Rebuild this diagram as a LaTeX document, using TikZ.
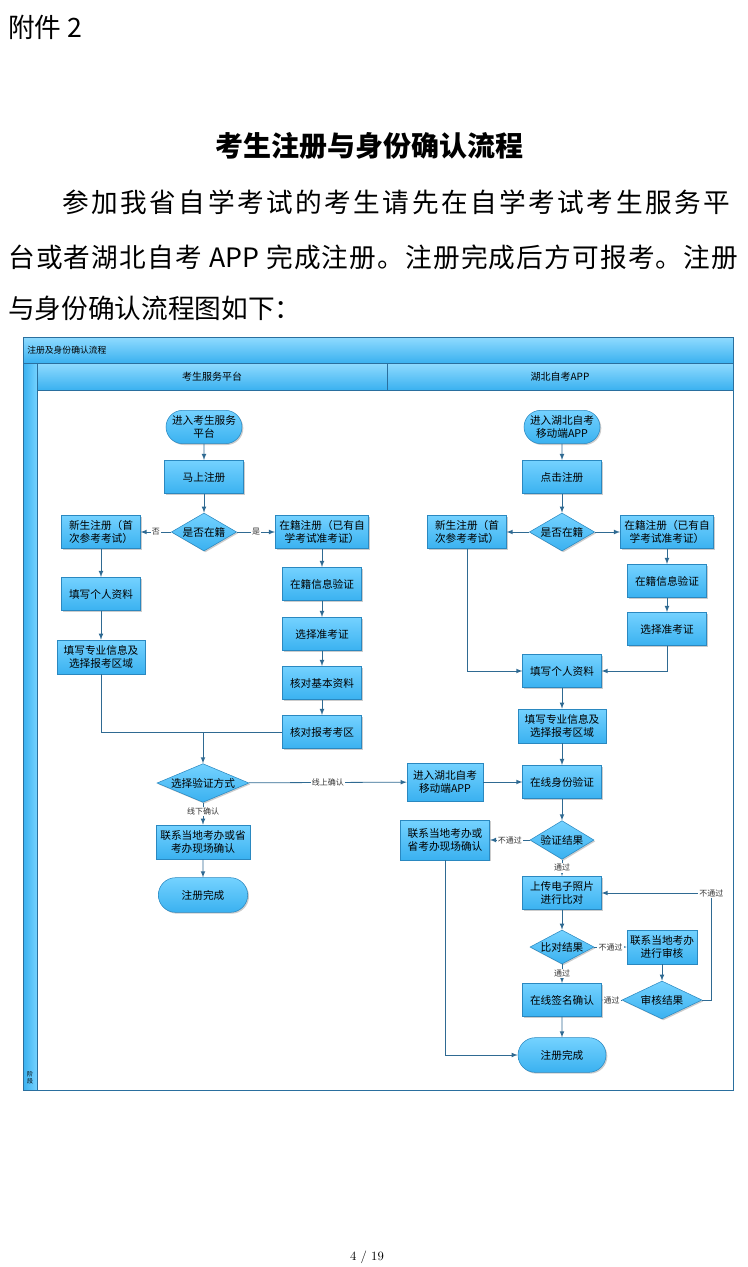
\documentclass[tikz,border=0pt]{standalone}
\usepackage{fontspec}
\newfontfamily\cjk{Noto Sans CJK SC}
\usetikzlibrary{shapes.geometric,shapes.misc,shadows}
\definecolor{flowline}{HTML}{2F6A92}
\definecolor{boxedge}{HTML}{2A88C0}
\definecolor{boxtop}{HTML}{74D2FF}
\definecolor{boxbot}{HTML}{3AB1F0}
\definecolor{baredge}{HTML}{2A6F9E}
\newcommand\parafont{\cjk\fontsize{20}{20}\selectfont}
% spread a line of body text over a given width
\makeatletter
\newcommand\spreadline[2]{\hbox to #1{\@tfor\sp@ch:=#2\do{\sp@ch\hskip 0pt plus 1fil\relax}\unskip}}
\makeatother

\begin{document}
\begin{tikzpicture}[x=0.75pt,y=-0.75pt,>=latex,
  proc/.style={draw=boxedge, top color=boxtop, bottom color=boxbot,
    minimum width=59pt, minimum height=25pt, inner sep=1pt, align=center,
    font=\cjk\fontsize{8}{10}\selectfont,
    drop shadow={shadow xshift=1pt, shadow yshift=-1pt, fill=black!40, opacity=0.5}},
  term/.style={proc, rounded rectangle},
  ask/.style={proc, diamond, inner sep=0pt},
  flow/.style={draw=flowline, line width=0.6pt},
  lbl/.style={fill=white, inner sep=0.8pt, font=\cjk\fontsize{6}{7}\selectfont, text=black!80},
  bar/.style={draw=baredge, line width=0.6pt, top color=boxtop!80!white, bottom color=boxbot}]
  \useasboundingbox (0,0) rectangle (748,1267);
  % page text
  \node[anchor=base west, inner sep=0, font=\parafont] (att) at (8,37) {附件 2};
  \node[anchor=base, inner sep=0, font=\cjk\bfseries\fontsize{21}{21}\selectfont] (title) at (369,156) {考生注册与身份确认流程};
  \node[anchor=base west, inner sep=0, font=\parafont] (line1) at (62,212) {\spreadline{501pt}{参加我省自学考试的考生请先在自学考试考生服务平}};
  \node[anchor=base west, inner sep=0, font=\parafont] (line2) at (8,267) {\spreadline{547.5pt}{台或者湖北自考{\ APP\ }完成注册。注册完成后方可报考。注册}};
  \node[anchor=base west, inner sep=0, font=\parafont] (line3) at (8,318) {\spreadline{219pt}{与身份确认流程图如下：}};
  \node[inner sep=0, font=\fontsize{9.5}{10}\selectfont] (pageno) at (367,1257) {4 / 19};

  % frame and lanes
  \draw[draw=baredge, line width=0.6pt] (37,390) rectangle (733,1090);
  \draw[bar] (23,337) rectangle (733,363);
  \draw[bar] (37,363) rectangle (387,390);
  \draw[bar] (387,363) rectangle (733,390);
  \draw[draw=baredge, line width=0.6pt, left color=boxbot, right color=boxtop] (23,363) rectangle (37,1090);
  \node[anchor=west, inner sep=0, font=\cjk\fontsize{6.6}{8}\selectfont] (frametitle) at (27,350) {注册及身份确认流程};
  \node[font=\cjk\fontsize{7.5}{9}\selectfont] (lane1) at (212,376.5) {考生服务平台};
  \node[font=\cjk\fontsize{7.5}{9}\selectfont] (lane2) at (560,376.5) {湖北自考APP};
  \node[align=center, inner sep=0, font=\cjk\fontsize{4.5}{5}\selectfont] (stage) at (30,1078) {阶\\段};

  % left lane
  \node[term] (s1) at (204,427) {进入考生服务\\平台};
  \node[proc] (r1) at (204,477) {马上注册};
  \node[ask, aspect=1.72, minimum width=49pt, minimum height=28.5pt] (d1) at (204,532) {是否在籍};
  \node[proc] (n1) at (101,532) {新生注册（首\\次参考考试）};
  \node[proc, minimum width=70pt] (o1) at (322,532) {在籍注册（已有自\\学考试准考证）};
  \node[proc] (i1) at (101,594) {填写个人资料};
  \node[proc, minimum width=66pt, minimum height=25.5pt] (m1) at (101,657) {填写专业信息及\\选择报考区域};
  \node[proc] (v1) at (322,584) {在籍信息验证};
  \node[proc] (p1) at (322,634) {选择准考证};
  \node[proc] (b1) at (322,683) {核对基本资料};
  \node[proc] (a1) at (322,732) {核对报考考区};
  \coordinate (j1) at (203,732);
  \node[ask, aspect=2.38, minimum width=69pt, minimum height=29pt] (w1) at (203,783) {选择验证方式};
  \node[proc, minimum width=70.5pt, minimum height=25.5pt] (c1) at (203,842) {联系当地考办或省\\考办现场确认};
  \node[term, minimum width=69pt, minimum height=26pt] (e1) at (203,895) {注册完成};

  % right lane
  \node[term] (s2) at (562,427) {进入湖北自考\\移动端APP};
  \node[proc] (r2) at (562,477) {点击注册};
  \node[ask, aspect=1.72, minimum width=49pt, minimum height=28.5pt] (d2) at (562,532) {是否在籍};
  \node[proc] (n2) at (467,532) {新生注册（首\\次参考考试）};
  \node[proc, minimum width=70pt] (o2) at (667,532) {在籍注册（已有自\\学考试准考证）};
  \node[proc] (v2) at (667,581) {在籍信息验证};
  \node[proc] (p2) at (667,629) {选择准考证};
  \node[proc] (i2) at (562,671) {填写个人资料};
  \node[proc, minimum width=66pt, minimum height=25.5pt] (m2) at (562,726) {填写专业信息及\\选择报考区域};
  \node[proc] (v3) at (562,782) {在线身份验证};
  \node[proc, minimum width=57pt, minimum height=28.5pt] (app) at (445,782) {进入湖北自考\\移动端APP};
  \node[ask, aspect=1.66, minimum width=48pt, minimum height=29pt] (res) at (562,840) {验证结果};
  \node[proc, minimum width=67pt, minimum height=30pt] (c2) at (445,840) {联系当地考办或\\省考办现场确认};
  \node[proc] (up) at (562,893) {上传电子照片\\进行比对};
  \node[ask, aspect=1.88, minimum width=48pt, minimum height=25.5pt] (cmp) at (562,947) {比对结果};
  \node[proc, minimum width=52.5pt, minimum height=25.5pt] (c3) at (662,947) {联系当地考办\\进行审核};
  \node[proc] (sg) at (562,1000) {在线签名确认};
  \node[ask, aspect=2.1, minimum width=60pt, minimum height=28.5pt] (au) at (662,1000) {审核结果};
  \node[term, minimum width=68pt, minimum height=26pt] (e2) at (562,1055) {注册完成};

  % connectors, left
  \draw[flow,->] (s1) -- (r1);
  \draw[flow,->] (r1) -- (d1);
  \draw[flow,->] (d1) -- node[lbl]{否} (n1);
  \draw[flow,->] (d1) -- node[lbl]{是} (o1);
  \draw[flow,->] (n1) -- (i1);
  \draw[flow,->] (i1) -- (m1);
  \draw[flow,->] (o1) -- (v1);
  \draw[flow,->] (v1) -- (p1);
  \draw[flow,->] (p1) -- (b1);
  \draw[flow,->] (b1) -- (a1);
  \draw[flow] (m1.south) |- (a1.west);
  \draw[flow,->] (j1) -- (w1);
  \draw[flow,->] (w1) -- node[lbl,pos=0.4]{线下确认} (c1);
  \draw[flow,->] (c1) -- (e1);
  \draw[flow,->] (w1) -- node[lbl]{线上确认} (app);

  % connectors, right
  \draw[flow,->] (s2) -- (r2);
  \draw[flow,->] (r2) -- (d2);
  \draw[flow,->] (d2) -- (n2);
  \draw[flow,->] (d2) -- (o2);
  \draw[flow,->] (o2) -- (v2);
  \draw[flow,->] (v2) -- (p2);
  \draw[flow,->] (n2.south) |- (i2.west);
  \draw[flow,->] (p2.south) |- (i2.east);
  \draw[flow,->] (i2) -- (m2);
  \draw[flow,->] (m2) -- (v3);
  \draw[flow,->] (app) -- (v3);
  \draw[flow,->] (v3) -- (res);
  \draw[flow,->] (res) -- node[lbl]{不通过} (c2);
  \draw[flow,->] (res) -- node[lbl]{通过} (up);
  \draw[flow,->] (c2.south) |- (e2.west);
  \draw[flow,->] (up) -- (cmp);
  \draw[flow,->] (cmp) -- node[lbl]{不通过} (c3);
  \draw[flow,->] (cmp) -- node[lbl]{通过} (sg);
  \draw[flow,->] (c3) -- (au);
  \draw[flow,->] (au) -- node[lbl]{通过} (sg);
  \draw[flow,->] (au.east) -- ++(9,0) |- node[lbl,pos=0.5]{不通过} (up.east);
  \draw[flow,->] (sg) -- (e2);
\end{tikzpicture}
\end{document}
